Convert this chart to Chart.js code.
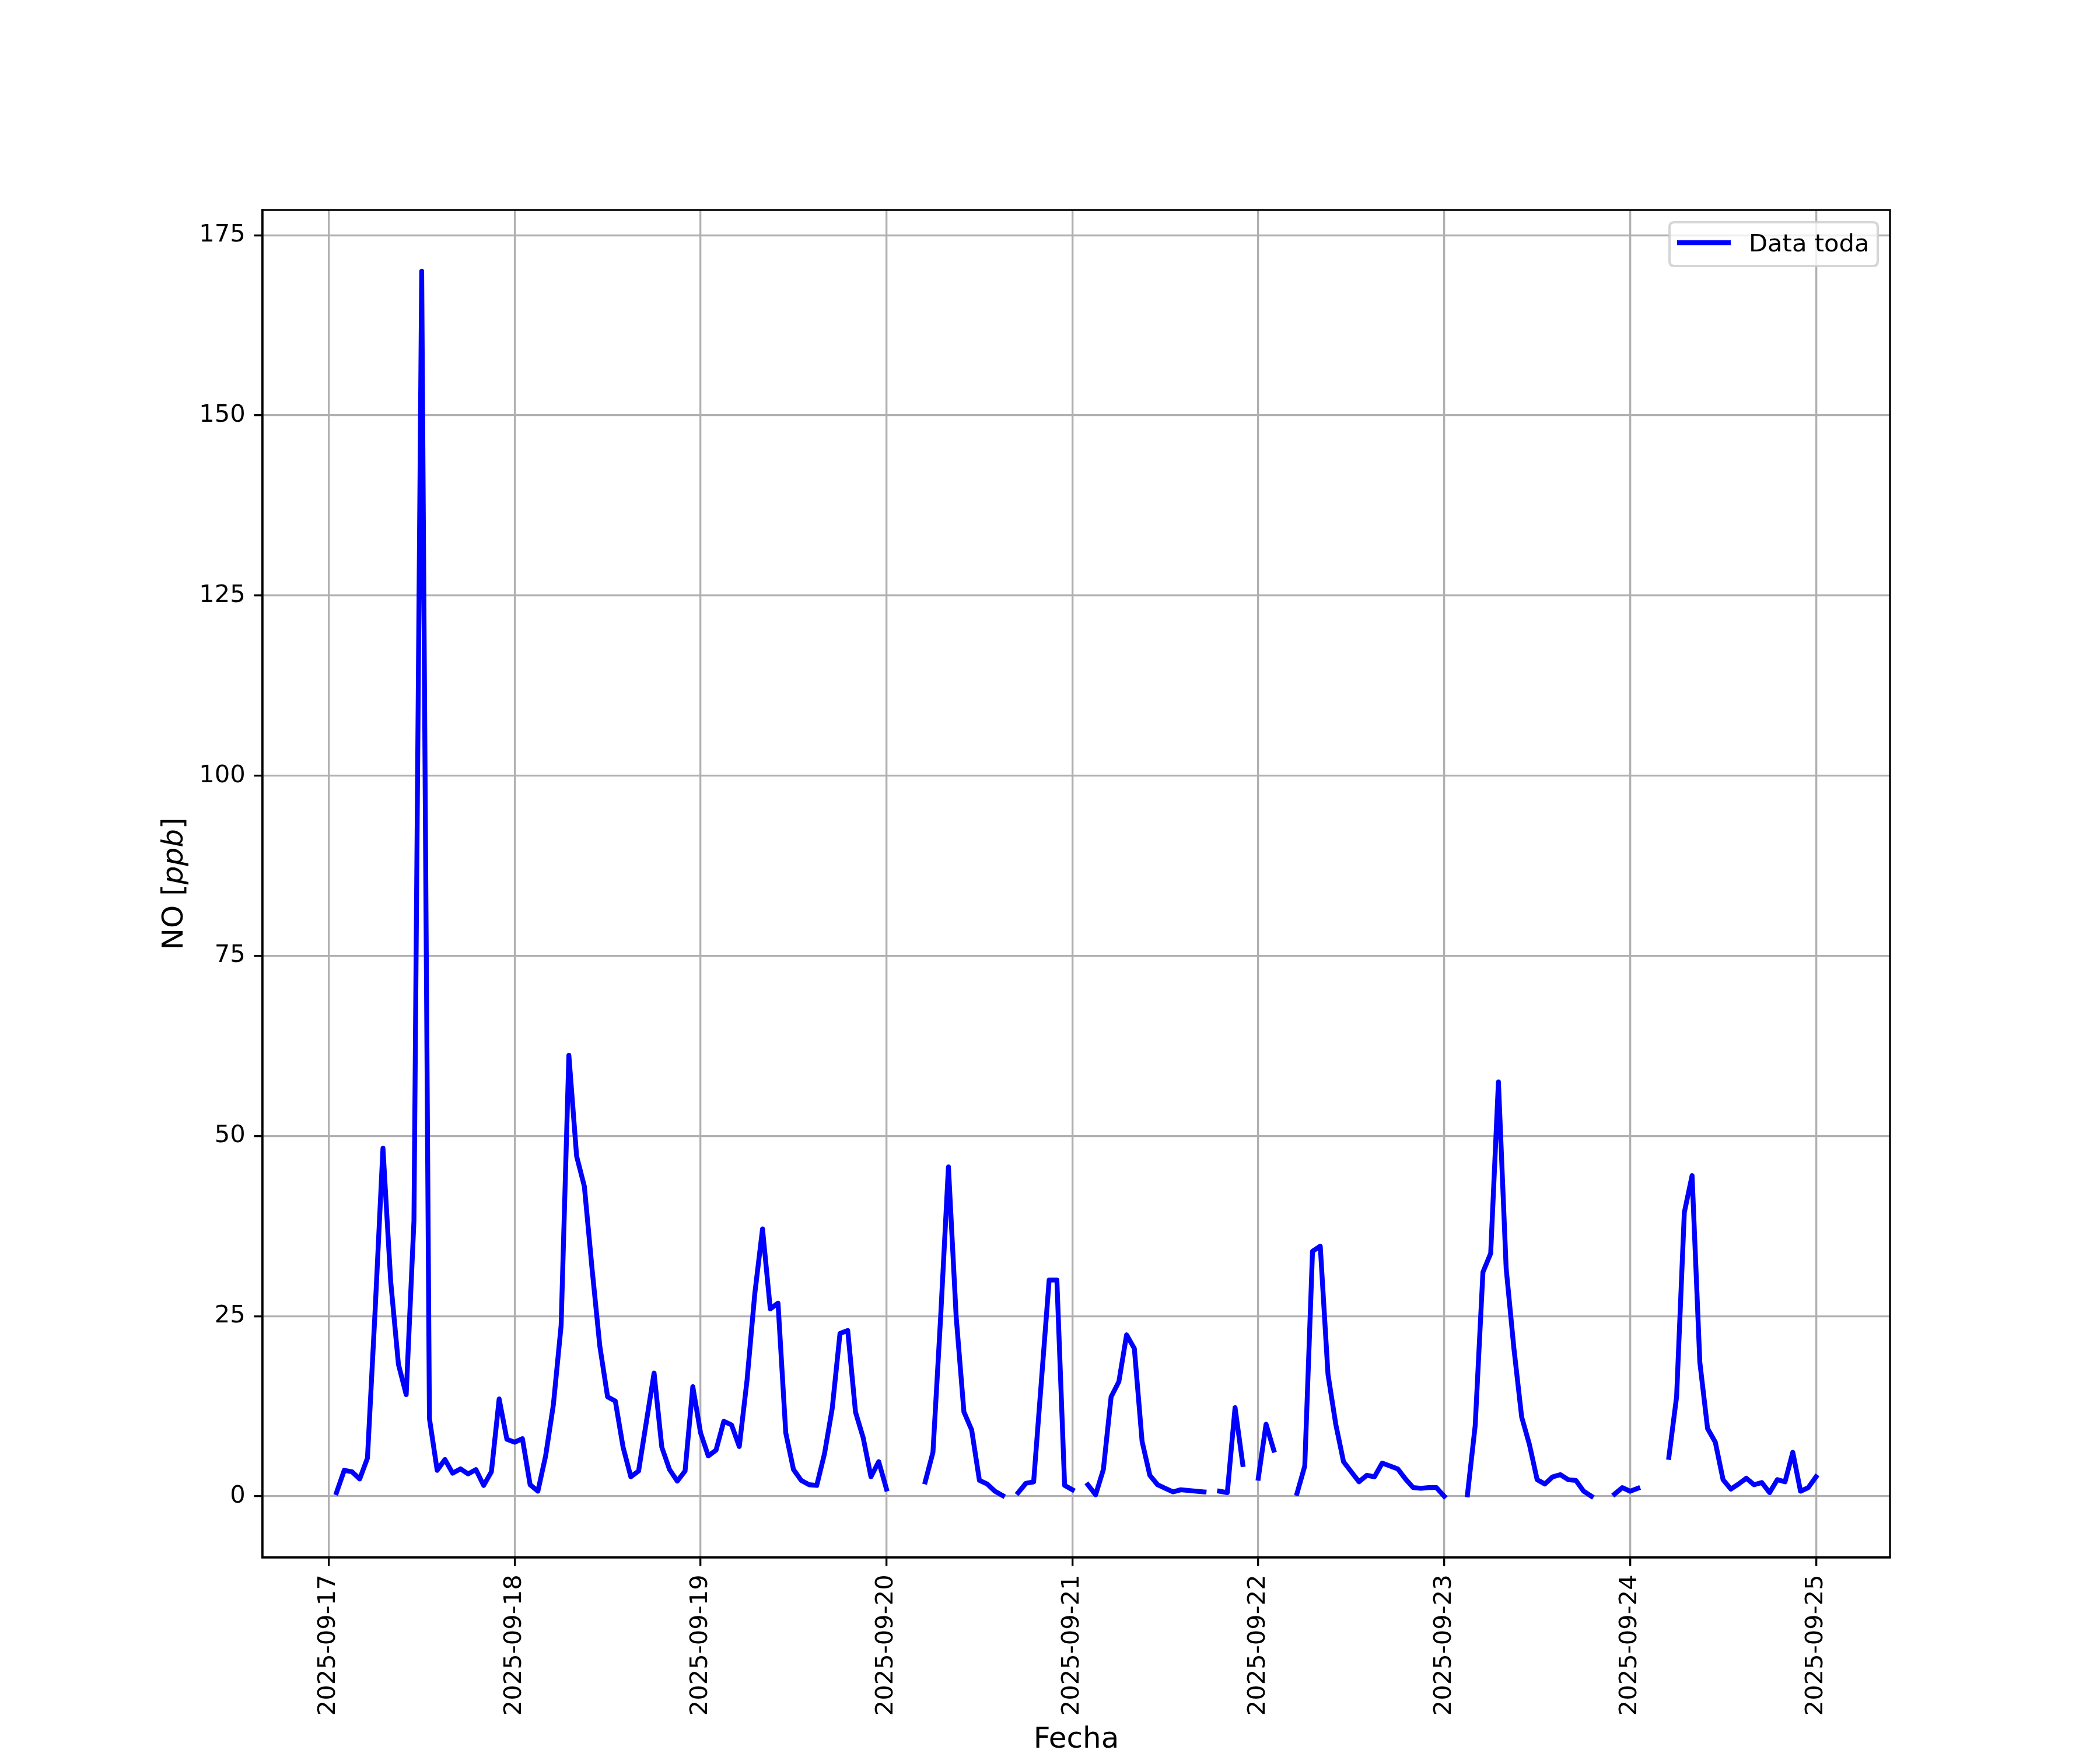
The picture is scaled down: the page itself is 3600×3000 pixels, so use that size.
<!DOCTYPE html>
<html>
<head>
<meta charset="utf-8">
<script src="https://cdn.jsdelivr.net/npm/chart.js@4/dist/chart.umd.min.js"></script>
<style>
html,body{margin:0;padding:0;background:#fff;}
#wrap{width:3600px;height:3000px;position:relative;}
canvas{display:block;}
</style>
</head>
<body>
<div id="wrap"><canvas id="c" width="3600" height="3000"></canvas></div>
<script>
// ---- Data (hourly NO readings, each day array = 01:00 ... 24:00) ----
const dayTicks = ['2025-09-17','2025-09-18','2025-09-19','2025-09-20','2025-09-21','2025-09-22','2025-09-23','2025-09-24','2025-09-25'];
const no_0917 = [0.5,3.6,3.4,2.4,5.3,26,48.3,29.8,18.3,14.1,38.2,170.0,10.8,3.6,5.1,3.2,3.8,3.1,3.7,1.5,3.4,13.5,7.9,7.5];
const no_0918 = [8.0,1.6,0.7,5.6,12.7,23.7,61.2,47.2,43.0,31.5,20.8,13.8,13.2,6.8,2.7,3.5,10.3,17.1,6.8,3.7,2.1,3.5,15.2,8.8];
const no_0919 = [5.6,6.4,10.4,9.9,6.9,16.1,28.1,37.1,26.0,26.8,8.8,3.7,2.2,1.6,1.5,5.9,12.2,22.6,23.0,11.7,8.1,2.7,4.8,1.0];
const no_0920 = [null,null,null,null,2.0,6.1,25,45.7,24.9,11.7,9.2,2.2,1.7,0.7,0.1,null,0.5,1.8,2.0,16,30.0,30.0,1.5,0.9];
const no_0921 = [null,1.6,0.2,3.7,13.8,15.9,22.4,20.5,7.6,2.9,1.6,1.1,0.6,0.9,0.8,0.7,0.6,null,0.7,0.5,12.3,4.4,null,2.5];
const no_0922 = [10.0,6.4,null,null,0.4,4.2,34.0,34.7,16.9,10.0,4.8,3.4,2.0,2.9,2.7,4.6,4.2,3.8,2.4,1.2,1.1,1.2,1.2,0.0];
const no_0923 = [null,null,0.2,9.8,31.1,33.7,57.5,31.6,20.5,11.0,7.2,2.3,1.7,2.7,3.0,2.3,2.2,0.7,0.0,null,null,0.3,1.2,0.7];
const no_0924 = [1.1,null,null,null,5.4,13.8,39.4,44.5,18.6,9.4,7.5,2.3,1.0,1.7,2.5,1.6,1.9,0.5,2.3,2.0,6.1,0.7,1.2,2.7];
const yTicks = [0,25,50,75,100,125,150,175];
const seriesName = 'Data toda';
const xTitle = 'Fecha';

// ---- Build series: x = hours since 2025-09-17 00:00 ----
const hourly = [].concat(no_0917,no_0918,no_0919,no_0920,no_0921,no_0922,no_0923,no_0924);
const points = hourly.map((v,i)=>({x:i+1, y:v}));

const PT = 300/72; // matplotlib points -> px at 300 dpi
const FONT = '"DejaVu Sans", "Liberation Sans", sans-serif';
const tickFont = 10*PT, labelFont = 12*PT;

// target plot box (matplotlib default subplot params)
const AREA = {left: 450, right: 3240, top: 360, bottom: 2670};
let xAxisH = 3000 - AREA.bottom, yAxisW = AREA.left, padTop = AREA.top, padRight = 3600 - AREA.right;

// x/y limits with matplotlib-like 5% margins
const xFirst = 1, xLast = hourly.length;
const xPad = 0.05*(xLast-xFirst);
const vals = hourly.filter(v=>v!==null);
const yMin0 = Math.min(...vals), yMax0 = Math.max(...vals);
const yPad = 0.05*(yMax0-yMin0);

function frameAndLabels(chart){
  const ctx = chart.ctx, a = chart.chartArea;
  ctx.save();
  ctx.strokeStyle = '#000';
  ctx.lineWidth = 0.8*PT;
  ctx.strokeRect(a.left, a.top, a.right-a.left, a.bottom-a.top);
  ctx.fillStyle = '#000';
  ctx.font = labelFont+'px '+FONT;
  ctx.textAlign = 'center';
  ctx.textBaseline = 'alphabetic';
  ctx.fillText(xTitle, (a.left+a.right)/2, 2996);
  const parts = [['NO [', 'normal'], ['ppb', 'italic'], [']', 'normal']];
  let total = 0;
  const widths = parts.map(p=>{ ctx.font = p[1]+' '+labelFont+'px '+FONT; const w = ctx.measureText(p[0]).width; total += w; return w; });
  ctx.translate(313, (a.top+a.bottom)/2);
  ctx.rotate(-Math.PI/2);
  ctx.textAlign = 'left';
  let x = -total/2;
  parts.forEach((p,i)=>{ ctx.font = p[1]+' '+labelFont+'px '+FONT; ctx.fillText(p[0], x, 0); x += widths[i]; });
  ctx.restore();

  ctx.save();
  const L = 2862, T = 381, R = 3219, B = 456, r = 0.2*tickFont;
  ctx.beginPath();
  ctx.moveTo(L+r,T); ctx.lineTo(R-r,T); ctx.quadraticCurveTo(R,T,R,T+r);
  ctx.lineTo(R,B-r); ctx.quadraticCurveTo(R,B,R-r,B);
  ctx.lineTo(L+r,B); ctx.quadraticCurveTo(L,B,L,B-r);
  ctx.lineTo(L,T+r); ctx.quadraticCurveTo(L,T,L+r,T);
  ctx.closePath();
  ctx.fillStyle = 'rgba(255,255,255,0.8)';
  ctx.fill();
  ctx.strokeStyle = 'rgba(204,204,204,0.8)';
  ctx.lineWidth = 1.0*PT;
  ctx.stroke();
  ctx.beginPath();
  ctx.moveTo(2875, 416); ctx.lineTo(2967, 416);
  ctx.strokeStyle = '#0000ff';
  ctx.lineWidth = 2*PT;
  ctx.lineCap = 'butt';
  ctx.stroke();
  ctx.fillStyle = '#000';
  ctx.font = tickFont+'px '+FONT;
  ctx.textAlign = 'left';
  ctx.textBaseline = 'alphabetic';
  ctx.fillText(seriesName, 2998, 431);
  ctx.restore();
}

const chart = new Chart(document.getElementById('c'), {
  type: 'line',
  data: {
    datasets: [{
      label: seriesName,
      data: points,
      borderColor: '#0000ff',
      backgroundColor: '#0000ff',
      borderWidth: 2*PT,
      pointRadius: 0,
      pointHoverRadius: 0,
      tension: 0,
      spanGaps: false,
      borderCapStyle: 'square',
      borderJoinStyle: 'round',
      fill: false
    }]
  },
  options: {
    responsive: false,
    animation: false,
    devicePixelRatio: 1,
    layout: { padding: { top: padTop, right: padRight, left: 0, bottom: 0 } },
    plugins: { legend: { display: false }, tooltip: { enabled: false }, title: { display: false } },
    scales: {
      x: {
        type: 'linear',
        min: xFirst - xPad,
        max: xLast + xPad,
        afterBuildTicks: s => { s.ticks = dayTicks.map((d,i)=>({value: i*24})); },
        afterFit: s => { s.height = xAxisH; s.paddingLeft = 0; s.paddingRight = 0; },
        ticks: {
          autoSkip: false, minRotation: 90, maxRotation: 90,
          callback: v => dayTicks[Math.round(v/24)],
          font: { family: FONT, size: tickFont },
          color: '#000',
          padding: 3.5*PT
        },
        grid: { color: '#b0b0b0', lineWidth: 0.8*PT, tickLength: 3.5*PT, tickColor: '#000', tickWidth: 0.8*PT, drawTicks: true },
        border: { display: true, color: '#000', width: 0.8*PT }
      },
      y: {
        type: 'linear',
        min: yMin0 - yPad,
        max: yMax0 + yPad,
        afterBuildTicks: s => { s.ticks = yTicks.map(v=>({value:v})); },
        afterFit: s => { s.width = yAxisW; s.paddingTop = 0; s.paddingBottom = 0; },
        ticks: {
          callback: v => String(v),
          font: { family: FONT, size: tickFont },
          color: '#000',
          padding: 3.5*PT
        },
        grid: { color: '#b0b0b0', lineWidth: 0.8*PT, tickLength: 3.5*PT, tickColor: '#000', tickWidth: 0.8*PT, drawTicks: true },
        border: { display: true, color: '#000', width: 0.8*PT }
      }
    }
  },
  plugins: [{ id: 'frameAndLabels', afterDraw: frameAndLabels }]
});

// nudge the layout so the plot box lands exactly on the target rectangle
for (let k = 0; k < 3; k++) {
  const a = chart.chartArea;
  const dT = AREA.top - a.top, dR = a.right - AREA.right, dL = AREA.left - a.left, dB = a.bottom - AREA.bottom;
  if (Math.abs(dT) < 0.5 && Math.abs(dR) < 0.5 && Math.abs(dL) < 0.5 && Math.abs(dB) < 0.5) break;
  padTop += dT; padRight += dR; yAxisW += dL; xAxisH += dB;
  chart.options.layout.padding = { top: padTop, right: padRight, left: 0, bottom: 0 };
  chart.update();
}
</script>
</body>
</html>
